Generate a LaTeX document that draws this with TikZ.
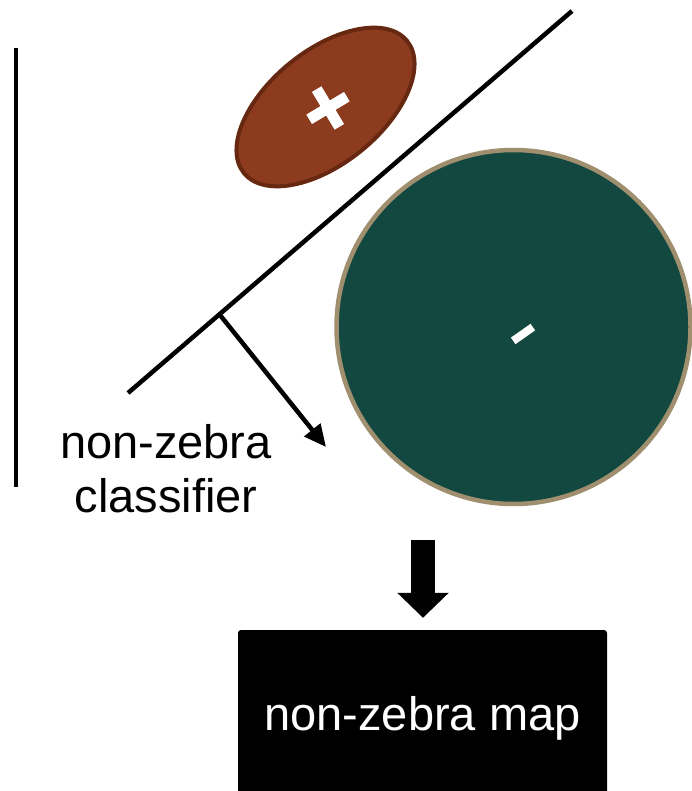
\documentclass[tikz,border=0pt]{standalone}
\usepackage{fontspec}
\setmainfont{Liberation Sans}
\usetikzlibrary{shapes.geometric, arrows.meta, calc}
\usepackage{xcolor}
\definecolor{blobBrown}{HTML}{8C3B1F}
\definecolor{blobBrownDark}{HTML}{662810}
\definecolor{blobGreen}{HTML}{134840}
\definecolor{blobTan}{HTML}{9F8F6F}
\tikzset{
    >=Stealth,
    % Blobs
    posBlob/.style={ellipse, line width=4pt, draw=blobBrownDark, fill=blobBrown, inner sep=0pt},
    negBlob/.style={circle, line width=4.5pt, draw=blobTan, fill=blobGreen, inner sep=0pt},
    signMark/.style={draw=white, line width=11pt},
    % Lines & Labels
    sepLine/.style={line width=4.5pt, black},
    flow/.style={sepLine, -{Triangle[length=22pt, width=20pt]}},
    bigFlow/.style={line width=24pt, -{Triangle[length=25pt, width=50pt]}},
    lbl/.style={font=\fontsize{47pt}{54pt}\selectfont, align=center, inner sep=0pt},
    mapBox/.style={rectangle, fill=black, rounded corners=3pt, text=white,
                   minimum width=369pt, minimum height=176pt, font=\fontsize{47pt}{54pt}\selectfont}
}

\begin{document}
\begin{tikzpicture}[x=1pt, y=-1pt]
\useasboundingbox (0,0) rectangle (692,791);

% the two classes
\node[posBlob, rotate=39, minimum width=210pt, minimum height=113pt] (pos) at (325.5,107) {};
\node[negBlob, minimum size=354pt] (neg) at (513.5,327) {};

% signs
\begin{scope}[shift={(328,108)}, rotate=31]
  \draw[signMark] (-22,0) -- (22,0);
  \draw[signMark] (0,-22) -- (0,22);
\end{scope}
\begin{scope}[shift={(523,334)}, rotate=35]
  \draw[signMark, line width=8pt, line join=round] (-12,0) -- (12,0);
\end{scope}

% separating line and its normal
\coordinate (lineA) at (128,393);
\coordinate (lineB) at (572,11);
\coordinate (foot) at (220,315);
\coordinate (normal) at (326,447);
\draw[sepLine] (lineA) -- (lineB);
\draw[flow] (foot) -- (normal);

% left axis
\coordinate (axisTop) at (16,48);
\coordinate (axisBot) at (16,487);
\draw[sepLine] (axisTop) -- (axisBot);

\node[lbl] (clf) at (166,469) {non-zebra\\classifier};

% output
\node[mapBox] (map) at (422.5,718) {non-zebra map};
\coordinate (flowTop) at (423,540);
\draw[bigFlow, shorten >=12pt] (flowTop) -- (flowTop |- map.north);

\end{tikzpicture}
\end{document}
